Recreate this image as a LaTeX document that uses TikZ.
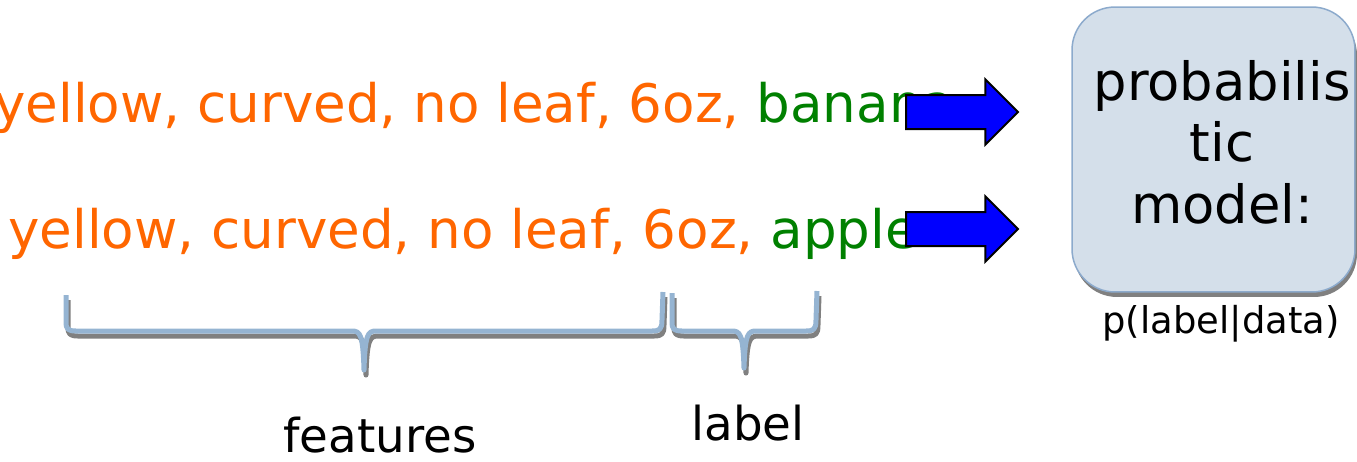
\documentclass[tikz,border=0pt]{standalone}
\usepackage{fontspec}
\setmainfont{DejaVu Sans}
\usepackage{xcolor}
\usetikzlibrary{positioning,shapes.arrows,shadows}
\definecolor{featorange}{RGB}{255,102,0}
\definecolor{labelgreen}{RGB}{0,128,0}
\definecolor{modelfill}{RGB}{212,223,234}
\definecolor{modelline}{RGB}{140,170,204}
\definecolor{bracecol}{RGB}{149,180,210}
\definecolor{shadowgray}{RGB}{128,128,128}
\tikzset{
	rowtext/.style={anchor=base west, inner sep=0pt, font=\fontsize{30.2}{36}\selectfont, text=featorange},
	blockarrow/.style={single arrow, draw=black, fill=blue, line width=0.04cm, minimum height=2.24cm, inner xsep=0pt, inner ysep=0.32cm, single arrow head extend=0.31cm, single arrow tip angle=90, anchor=tail},
	modelbox/.style={draw=modelline, fill=modelfill, line width=0.03cm, rounded corners=0.86cm, minimum width=5.66cm, minimum height=5.7cm, drop shadow={shadow xshift=0.04cm, shadow yshift=-0.1cm, fill=shadowgray, opacity=1}},
	bracepath/.style={line width=0.1cm, line join=round},
	caption/.style={anchor=base, inner sep=0pt, font=\fontsize{26.6}{32}\selectfont},
}
\begin{document}
\begin{tikzpicture}[x=0.02cm, y=-0.02cm]
	\useasboundingbox (0,0) rectangle (1357,461);
	\node[rowtext] (row1) at (-6,122) {yellow, curved, no leaf, 6oz, \textcolor{labelgreen}{banana}};
	\node[rowtext] (row2) at (8,248) {yellow, curved, no leaf, 6oz, \textcolor{labelgreen}{apple}};
	\node[blockarrow] (arr1) at (905,112) {};
	\node[blockarrow] (arr2) at (905,229) {};
	\node[modelbox] (model) at (1213.5,149.5) {};
	\node[anchor=base, align=center, inner sep=0pt, font=\fontsize{30}{35}\selectfont] (modeltext) at (1222,223) {probabilis\\tic\\model:};
	\node[anchor=base, inner sep=0pt, font=\fontsize{21}{25}\selectfont] (cond) at (1221,333) {p(label|data)};
	\foreach \col/\dx/\dy in {shadowgray/2/5, bracecol/0/0} {
		\draw[bracepath, draw=\col, shift={(\dx,\dy)}] (66,295) -- (66,322) .. controls (66,329) and (68,331) .. (76,331) -- (352,331) .. controls (360,331) and (363,334) .. (364,370) .. controls (365,334) and (368,331) .. (376,331) -- (652,331) .. controls (660,331) and (662,329) .. (662,320) -- (663,292);
		\draw[bracepath, draw=\col, shift={(\dx,\dy)}] (672,293) -- (672,322) .. controls (672,329) and (674,331) .. (682,331) -- (732,331) .. controls (740,331) and (743,334) .. (744,368) .. controls (745,334) and (748,331) .. (756,331) -- (806,331) .. controls (814,331) and (816,329) .. (816,320) -- (817,291);
	}
	\node[caption] (features) at (380,452) {features};
	\node[caption] (labeltxt) at (748,440) {label};
\end{tikzpicture}
\end{document}
